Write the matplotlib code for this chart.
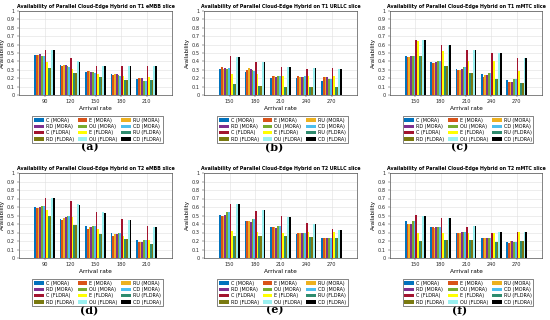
import numpy as np
import matplotlib
matplotlib.use("Agg")
import matplotlib.pyplot as plt

# series names (MATLAB bar order)
names = ["C (MORA)", "E (MORA)", "RU (MORA)", "RD (MORA)", "OU (MORA)", "CD (MORA)",
         "C (FLDRA)", "E (FLDRA)", "RU (FLDRA)", "RD (FLDRA)", "OU (FLDRA)", "CD (FLDRA)"]
colors = ["#0072bd", "#d95319", "#edb120", "#7e2f8e", "#77ac30", "#4dbeee",
          "#a2142f", "#ffff00", "#2e8b6e", "#7a7a10", "#99f0f0", "#000000"]

titles = ["Availability of Parallel Cloud-Edge Hybrid on T1 eMBB slice",
          "Availability of Parallel Cloud-Edge Hybrid on T1 URLLC slice",
          "Availability of Parallel Cloud-Edge Hybrid on T1 mMTC slice",
          "Availability of Parallel Cloud-Edge Hybrid on T2 eMBB slice",
          "Availability of Parallel Cloud-Edge Hybrid on T2 URLLC slice",
          "Availability of Parallel Cloud-Edge Hybrid on T2 mMTC slice"]
panel_labels = ["(a)", "(b)", "(c)", "(d)", "(e)", "(f)"]

rates_embb = ["90", "120", "150", "180", "210"]
rates_other = ["150", "180", "210", "240", "270"]

# availability per arrival rate (rows) and series (cols)
t1_embb = [
    [0.48, 0.48, 0.48, 0.49, 0.47, 0.46, 0.54, 0.39, 0.32, 0.32, 0.53, 0.53],
    [0.36, 0.34, 0.36, 0.36, 0.34, 0.33, 0.44, 0.31, 0.26, 0.26, 0.40, 0.39],
    [0.27, 0.29, 0.28, 0.27, 0.27, 0.26, 0.35, 0.25, 0.22, 0.22, 0.35, 0.35],
    [0.25, 0.24, 0.25, 0.25, 0.24, 0.23, 0.34, 0.23, 0.18, 0.18, 0.34, 0.34],
    [0.19, 0.20, 0.20, 0.20, 0.17, 0.17, 0.34, 0.21, 0.18, 0.18, 0.34, 0.34],
]
t1_urllc = [
    [0.31, 0.33, 0.31, 0.32, 0.31, 0.32, 0.46, 0.25, 0.13, 0.13, 0.45, 0.45],
    [0.27, 0.30, 0.32, 0.31, 0.30, 0.29, 0.39, 0.25, 0.11, 0.11, 0.39, 0.39],
    [0.20, 0.23, 0.23, 0.22, 0.23, 0.23, 0.33, 0.23, 0.10, 0.10, 0.33, 0.33],
    [0.20, 0.23, 0.22, 0.22, 0.22, 0.23, 0.31, 0.23, 0.10, 0.10, 0.32, 0.32],
    [0.17, 0.21, 0.22, 0.22, 0.19, 0.19, 0.32, 0.23, 0.10, 0.10, 0.31, 0.31],
]
t1_mmtc = [
    [0.47, 0.45, 0.45, 0.46, 0.47, 0.47, 0.65, 0.64, 0.47, 0.47, 0.65, 0.65],
    [0.39, 0.38, 0.38, 0.39, 0.40, 0.41, 0.60, 0.52, 0.35, 0.35, 0.60, 0.60],
    [0.31, 0.30, 0.30, 0.31, 0.33, 0.33, 0.54, 0.41, 0.26, 0.26, 0.54, 0.54],
    [0.25, 0.22, 0.24, 0.24, 0.26, 0.26, 0.50, 0.40, 0.19, 0.19, 0.50, 0.50],
    [0.18, 0.15, 0.16, 0.16, 0.19, 0.19, 0.44, 0.29, 0.14, 0.14, 0.44, 0.44],
]
t2_embb = [
    [0.60, 0.59, 0.59, 0.60, 0.61, 0.61, 0.71, 0.56, 0.50, 0.50, 0.71, 0.71],
    [0.46, 0.45, 0.47, 0.48, 0.50, 0.49, 0.67, 0.48, 0.39, 0.39, 0.63, 0.62],
    [0.38, 0.34, 0.36, 0.36, 0.38, 0.38, 0.54, 0.34, 0.28, 0.28, 0.54, 0.53],
    [0.29, 0.26, 0.28, 0.28, 0.30, 0.30, 0.46, 0.26, 0.22, 0.22, 0.45, 0.45],
    [0.21, 0.19, 0.19, 0.19, 0.21, 0.21, 0.38, 0.21, 0.17, 0.17, 0.36, 0.36],
]
t2_urllc = [
    [0.51, 0.50, 0.50, 0.51, 0.54, 0.54, 0.63, 0.32, 0.26, 0.26, 0.64, 0.64],
    [0.44, 0.43, 0.43, 0.42, 0.46, 0.46, 0.55, 0.31, 0.26, 0.26, 0.56, 0.56],
    [0.37, 0.36, 0.36, 0.35, 0.38, 0.38, 0.49, 0.30, 0.26, 0.26, 0.48, 0.48],
    [0.28, 0.29, 0.29, 0.30, 0.30, 0.30, 0.41, 0.31, 0.25, 0.25, 0.40, 0.40],
    [0.23, 0.23, 0.24, 0.23, 0.23, 0.23, 0.34, 0.31, 0.24, 0.24, 0.33, 0.33],
]
t2_mmtc = [
    [0.43, 0.40, 0.40, 0.40, 0.43, 0.43, 0.51, 0.29, 0.20, 0.20, 0.50, 0.50],
    [0.36, 0.36, 0.35, 0.36, 0.37, 0.37, 0.47, 0.29, 0.21, 0.21, 0.47, 0.47],
    [0.30, 0.30, 0.30, 0.31, 0.31, 0.31, 0.37, 0.30, 0.21, 0.21, 0.38, 0.38],
    [0.24, 0.23, 0.23, 0.23, 0.23, 0.23, 0.30, 0.30, 0.19, 0.19, 0.31, 0.31],
    [0.19, 0.18, 0.20, 0.20, 0.19, 0.19, 0.31, 0.31, 0.20, 0.20, 0.31, 0.31],
]

datasets = [t1_embb, t1_urllc, t1_mmtc, t2_embb, t2_urllc, t2_mmtc]
xlabels = [rates_embb, rates_other, rates_other, rates_embb, rates_other, rates_other]

W, H = 550, 320
fig = plt.figure(figsize=(5.5, 3.2), dpi=100)

# axes boxes in pixels: left, right, top, bottom
boxes = [(19, 172, 11, 95), (204, 357, 11, 95), (390, 542, 11, 95),
         (19, 172, 173, 258), (204, 357, 173, 258), (390, 542, 173, 258)]

nser = len(names)
bw = 0.068
order = [0, 3, 6, 9, 1, 4, 7, 10, 2, 5, 8, 11]

for k in range(6):
    l, r, t, b = boxes[k]
    ax = fig.add_axes([l / W, 1 - b / H, (r - l) / W, (b - t) / H])
    data = np.array(datasets[k])
    x = np.arange(1, 6)
    handles = []
    for j in range(nser):
        off = (j - (nser - 1) / 2) * bw
        h = ax.bar(x + off, data[:, j], width=bw, color=colors[j],
                   edgecolor="none", label=names[j], zorder=3)
        handles.append(h)
    ax.set_xlim(0, 6)
    ax.set_ylim(0, 1)
    ax.set_xticks(x)
    ax.set_xticklabels(xlabels[k])
    ax.set_yticks(np.arange(0, 1.01, 0.1))
    ax.set_yticklabels(["0"] + ["%.1f" % v for v in np.arange(0.1, 0.95, 0.1)] + ["1"])
    ax.grid(True, color="#e0e0e0", linewidth=0.4, zorder=0)
    ax.tick_params(labelsize=3.6, length=1.5, width=0.3, pad=1.5, colors="#262626")
    for s in ax.spines.values():
        s.set_linewidth(0.4)
        s.set_color("#262626")
    ax.set_title(titles[k], fontsize=3.4, fontweight="bold", pad=2)
    ax.set_xlabel("Arrival rate", fontsize=4.2, labelpad=1)
    ax.set_ylabel("Availability", fontsize=4.0, labelpad=1.5)

    cx = (l + r) / 2 + 2
    leg = fig.legend([handles[i] for i in order], [names[i] for i in order],
                     loc="upper center", bbox_to_anchor=(cx / W, 1 - (b + 19) / H),
                     ncol=3, fontsize=3.5, frameon=True, fancybox=False,
                     edgecolor="#262626", framealpha=1, handlelength=2.0,
                     handleheight=0.8, handletextpad=0.4, columnspacing=0.8,
                     labelspacing=0.25, borderpad=0.3)
    leg.get_frame().set_linewidth(0.4)

    fig.text((cx - 8) / W, 1 - (b + 52) / H, panel_labels[k], ha="center", va="center",
             fontsize=8, family="serif", fontweight="bold")

fig.savefig("out.png", dpi=100)
